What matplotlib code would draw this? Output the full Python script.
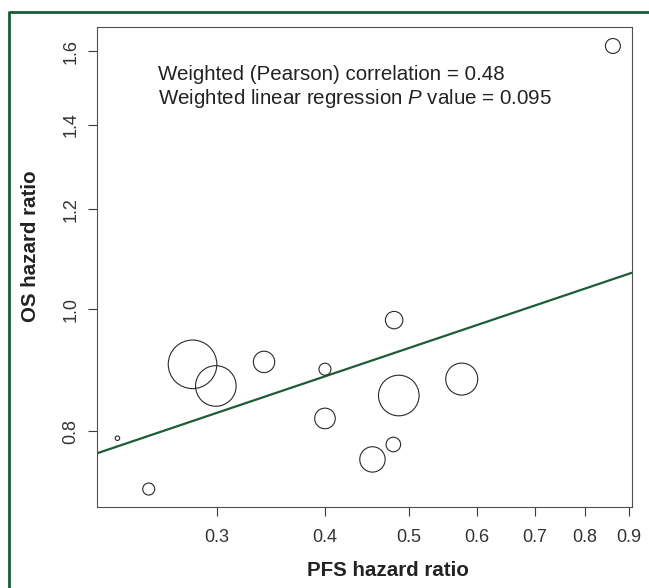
import numpy as np
import matplotlib
matplotlib.use("Agg")
import matplotlib.pyplot as plt
from matplotlib.lines import Line2D
from matplotlib.ticker import FixedLocator, FixedFormatter, NullLocator

plt.rcParams['font.family'] = ['Liberation Sans', 'DejaVu Sans']
plt.rcParams['mathtext.fontset'] = 'custom'
plt.rcParams['mathtext.rm'] = 'Liberation Sans'
plt.rcParams['mathtext.it'] = 'Liberation Sans:italic'

# ---- data ----
pfs_hr = [0.230, 0.250, 0.281, 0.299, 0.340, 0.400, 0.400, 0.481, 0.487, 0.454, 0.480, 0.576, 0.862]
os_hr = [0.790, 0.720, 0.904, 0.869, 0.908, 0.896, 0.819, 0.980, 0.854, 0.760, 0.781, 0.880, 1.616]
weights = [5, 36, 590, 412, 114, 36, 106, 76, 412, 161, 53, 256, 56]
reg_intercept_log = 0.0888
reg_slope_log = 0.231
x_ticks = [0.3, 0.4, 0.5, 0.6, 0.7, 0.8, 0.9]
x_tick_labels = ["0.3", "0.4", "0.5", "0.6", "0.7", "0.8", "0.9"]
y_ticks = [0.8, 1.0, 1.2, 1.4, 1.6]
y_tick_labels = ["0.8", "1.0", "1.2", "1.4", "1.6"]
annot_line1 = "Weighted (Pearson) correlation = 0.48"
annot_line2 = r"Weighted linear regression $\mathit{P}$ value = 0.095"

DPI = 100
W, H = 649, 588
green = '#1d5c36'
grey = '#3a3a3a'

fig = plt.figure(figsize=(W / DPI, H / DPI), dpi=DPI)
ax = fig.add_axes([97 / W, 1 - 507 / H, (632 - 97) / W, (507 - 27) / H])
ax.set_xscale('log')
ax.set_yscale('log')
ax.set_xlim(0.2178, 0.907)
ax.set_ylim(0.6968, 1.673)

# bubbles: radius proportional to sqrt(weight)
w = np.array(weights, dtype=float)
diam_pt = 2 * np.sqrt(w) * 72 / DPI
ax.scatter(pfs_hr, os_hr, s=diam_pt ** 2, facecolors='none', edgecolors='#2a2a2a',
           linewidths=0.8, zorder=3)

# regression line (log-log)
xl = np.array(ax.get_xlim())
yl = np.exp(reg_intercept_log + reg_slope_log * np.log(xl))
ax.plot(xl, yl, color=green, lw=1.6, zorder=2, solid_capstyle='butt')

# ticks
ax.xaxis.set_major_locator(FixedLocator(x_ticks))
ax.xaxis.set_major_formatter(FixedFormatter(x_tick_labels))
ax.xaxis.set_minor_locator(NullLocator())
ax.yaxis.set_major_locator(FixedLocator(y_ticks))
ax.yaxis.set_major_formatter(FixedFormatter(y_tick_labels))
ax.yaxis.set_minor_locator(NullLocator())
ax.tick_params(axis='both', which='major', length=6.5, width=0.8, color=grey,
               labelsize=13, labelcolor='#333333')
ax.tick_params(axis='x', pad=9.5)
ax.tick_params(axis='y', pad=6.0)
for lab in ax.get_yticklabels():
    lab.set_rotation(90)
    lab.set_va('center')
for sp in ax.spines.values():
    sp.set_color('#505050')
    sp.set_linewidth(0.8)

ax.set_xlabel("PFS hazard ratio", fontsize=14.8, fontweight='bold', color='#222222')
ax.set_ylabel("OS hazard ratio", fontsize=14.8, fontweight='bold', color='#222222')
ax.xaxis.set_label_coords((388 - 97) / (632 - 97), -(571 - 507) / (507 - 27))
ax.xaxis.label.set_va('center')
ax.yaxis.set_label_coords(-(97 - 31) / (632 - 97), (507 - 246) / (507 - 27))
ax.yaxis.label.set_va('center')

# annotation
ax.text((158 - 97) / 535, (507 - 80) / 480, annot_line1, transform=ax.transAxes,
        fontsize=14.8, color='#222222', va='baseline', ha='left')
ax.text((158 - 97) / 535, (507 - 104) / 480, annot_line2, transform=ax.transAxes,
        fontsize=14.8, color='#222222', va='baseline', ha='left')

# green frame
fig.add_artist(Line2D([9 / W, 1.0], [1 - 12 / H, 1 - 12 / H], color=green, lw=2.0,
                      transform=fig.transFigure, solid_capstyle='butt'))
fig.add_artist(Line2D([9 / W, 9 / W], [1 - 11 / H, 0.0], color=green, lw=2.0,
                      transform=fig.transFigure, solid_capstyle='butt'))

fig.savefig("out.png", dpi=DPI, facecolor='white')
